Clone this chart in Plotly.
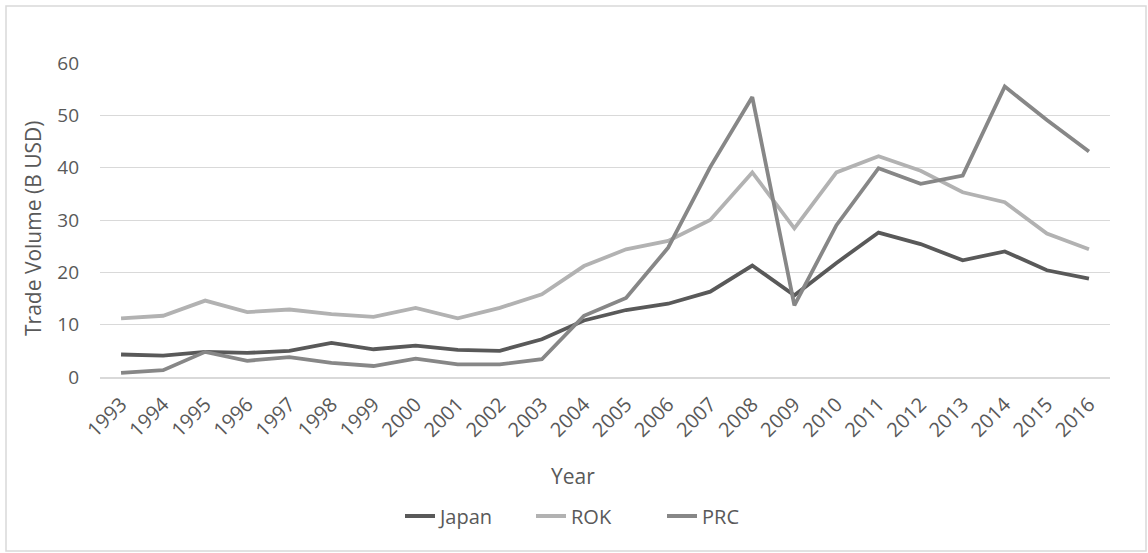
import plotly.graph_objects as go

# Bilateral trade volume, billions of USD
years = [str(y) for y in range(1993, 2017)]
japan = [4.3, 4.1, 4.8, 4.6, 5.0, 6.5, 5.3, 6.0, 5.2, 5.0, 7.2, 10.8,
         12.8, 14.0, 16.3, 21.3, 15.6, 21.8, 27.6, 25.4, 22.3, 24.0, 20.4, 18.8]
rok = [11.2, 11.7, 14.6, 12.4, 12.9, 12.0, 11.5, 13.2, 11.2, 13.2, 15.8, 21.2,
       24.4, 26.0, 30.0, 39.1, 28.4, 39.1, 42.2, 39.4, 35.3, 33.4, 27.4, 24.4]
prc = [0.8, 1.3, 4.8, 3.1, 3.8, 2.7, 2.1, 3.5, 2.4, 2.4, 3.4, 11.7,
       15.1, 24.7, 40.1, 53.5, 13.7, 29.0, 39.9, 36.9, 38.5, 55.5, 49.1, 43.1]

series = [("Japan", japan, "#595959"), ("ROK", rok, "#b2b2b2"), ("PRC", prc, "#878787")]

FONT = "Open Sans"
TXT = "#595959"

fig = go.Figure()
for name, vals, col in series:
    fig.add_trace(go.Scatter(x=years, y=vals, name=name, mode="lines",
                             line=dict(color=col, width=3.8)))

W, H = 1148, 553
L, R, T, B = 100, 38, 63, 176
PW, PH = W - L - R, H - T - B

fig.update_layout(
    width=W, height=H,
    margin=dict(l=L, r=R, t=T, b=B),
    paper_bgcolor="white", plot_bgcolor="white",
    font=dict(family=FONT, color=TXT, size=18),
    showlegend=True,
    legend=dict(orientation="h", x=(400 - L) / PW, xanchor="left",
                y=(H - B - 516) / PH, yanchor="middle",
                font=dict(size=20, color=TXT),
                entrywidth=86, entrywidthmode="pixels",
                traceorder="normal"),
    xaxis=dict(type="category", tickangle=-45, showgrid=False,
               range=[-0.5, len(years) - 0.5],
               showline=True, linecolor="#d9d9d9", linewidth=1.5,
               ticks="", ticklabelstandoff=6,
               tickfont=dict(size=20, color=TXT), zeroline=False),
    yaxis=dict(range=[0, 60], tickvals=[0, 10, 20, 30, 40, 50, 60],
               showgrid=True, gridcolor="#d9d9d9", gridwidth=1.3,
               zeroline=False, showline=False, ticks="",
               ticklabelstandoff=20,
               tickfont=dict(size=19, color=TXT)),
    annotations=[
        dict(text="Trade Volume (B USD)", xref="paper", yref="paper",
             x=(33 - L) / PW, y=(H - B - 229) / PH,
             xanchor="center", yanchor="middle", textangle=-90,
             showarrow=False, font=dict(size=21, color=TXT)),
        dict(text="Year", xref="paper", yref="paper",
             x=(573 - L) / PW, y=(H - B - 476) / PH,
             xanchor="center", yanchor="middle",
             showarrow=False, font=dict(size=21, color=TXT)),
    ],
    shapes=[
        dict(type="rect", xref="paper", yref="paper",
             x0=(6 - L) / PW, x1=(1146 - L) / PW,
             y0=(H - B - 551) / PH, y1=(H - B - 6) / PH,
             line=dict(color="#d9d9d9", width=1.5), layer="below"),
    ],
)

fig.write_html("out.html")
